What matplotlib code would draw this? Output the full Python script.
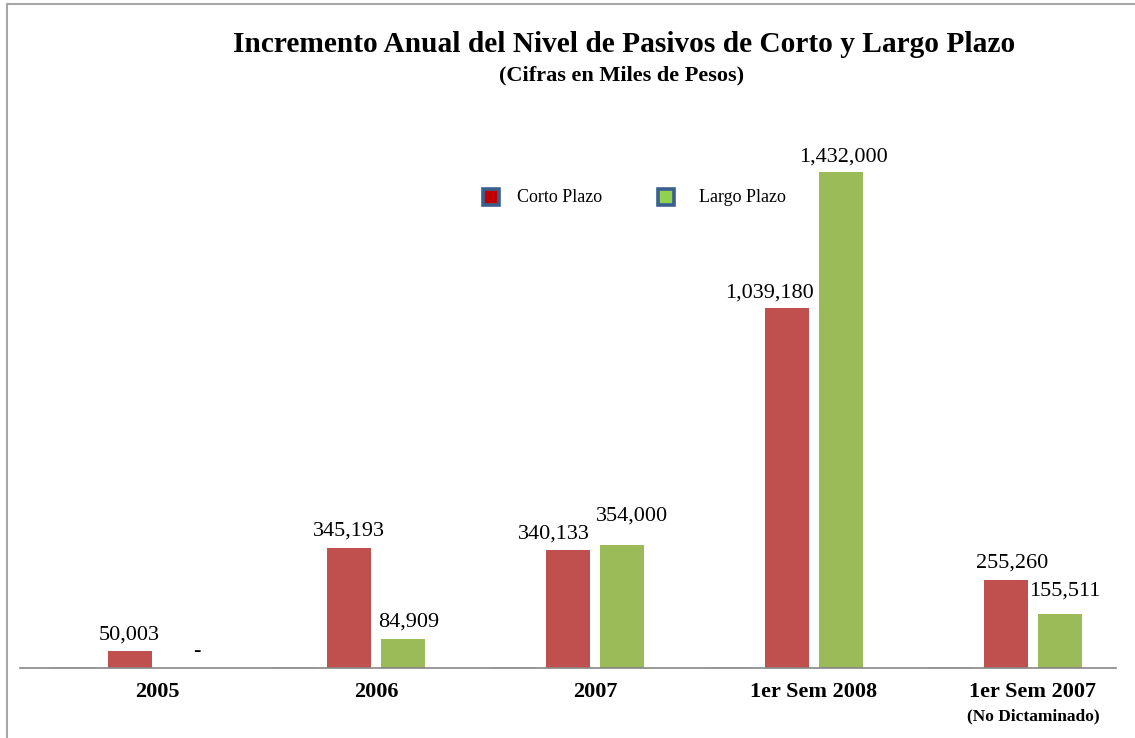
import matplotlib
matplotlib.use('Agg')
import matplotlib.pyplot as plt
from matplotlib.lines import Line2D
import numpy as np

plt.rcParams['font.family'] = ['Liberation Serif', 'DejaVu Serif']

# datos (miles de pesos)
periodos = ['2005', '2006', '2007', '1er Sem 2008', '1er Sem 2007']
corto_plazo = [50003, 345193, 340133, 1039180, 255260]
largo_plazo = [0, 84909, 354000, 1432000, 155511]
serie_vacia = [0, 0, 0, 0, 0]

# desplazamiento (px) de cada etiqueta de valor respecto al centro de su barra
desp_corto = [(0, 16), (0, 17), (-14, 16), (-17, 15), (7, 17)]
desp_largo = [(12, 16), (5, 17), (10, 29), (2, 15), (4, 23)]

rojo = '#C0504D'
verde = '#9BBB59'
azul_claro = '#C6D9F1'

fig = plt.figure(figsize=(11.35, 7.38), dpi=100)
ax = fig.add_axes([20 / 1135, 70 / 738, 1096 / 1135, 570 / 738])

x = np.arange(len(periodos))
ancho = 0.2
ax.bar(x - 0.375, serie_vacia, ancho, color=azul_claro, edgecolor=azul_claro, linewidth=1.2)
b1 = ax.bar(x - 0.125, corto_plazo, ancho, color=rojo)
b2 = ax.bar(x + 0.125, largo_plazo, ancho, color=verde)

# etiquetas de valor sobre cada barra
for barras, desp in ((b1, desp_corto), (b2, desp_largo)):
    for b, (dx, dy) in zip(barras, desp):
        v = b.get_height()
        txt = f'{v:,.0f}' if v > 0 else '-'
        ax.annotate(txt, (b.get_x() + b.get_width() / 2, v), xytext=(dx, dy),
                    textcoords='offset pixels', ha='center', va='center', fontsize=16)

ax.set_xlim(-0.6256, 4.379)
ax.set_ylim(0, 1432000 * 570 / 496)
for s in ['top', 'right', 'left']:
    ax.spines[s].set_visible(False)
ax.spines['bottom'].set_color('#868686')
ax.spines['bottom'].set_linewidth(1.2)
ax.set_yticks([])
ax.set_xticks(x)
ax.set_xticklabels(periodos, fontsize=16, fontweight='bold')
ax.tick_params(axis='x', length=0, pad=10)
ax.text(4, -0.085, '(No Dictaminado)', transform=ax.get_xaxis_transform(),
        ha='center', va='center', fontsize=12.5, fontweight='bold')

# leyenda
y_ley = 1 - 197 / 738
fig.add_artist(Line2D([491 / 1135], [y_ley], marker='s', markersize=11.5, markerfacecolor='#C00000',
                      markeredgecolor='#3A5F8F', markeredgewidth=2.6))
fig.text(517 / 1135, y_ley, 'Corto Plazo', ha='left', va='center', fontsize=13)
fig.add_artist(Line2D([666 / 1135], [y_ley], marker='s', markersize=11.5, markerfacecolor='#92D050',
                      markeredgecolor='#3A5F8F', markeredgewidth=2.6))
fig.text(699 / 1135, y_ley, 'Largo Plazo', ha='left', va='center', fontsize=13)

fig.text(624 / 1135, 1 - 45 / 738, 'Incremento Anual del Nivel de Pasivos de Corto y Largo Plazo',
         ha='center', va='center', fontsize=21.2, fontweight='bold')
fig.text(622 / 1135, 1 - 75 / 738, '(Cifras en Miles de Pesos)',
         ha='center', va='center', fontsize=16, fontweight='bold')

# marco gris del grafico
fig.add_artist(Line2D([7 / 1135, 1], [1 - 4 / 738, 1 - 4 / 738], color='#A6A6A6', linewidth=1.5))
fig.add_artist(Line2D([7 / 1135, 7 / 1135], [0, 1 - 4 / 738], color='#A6A6A6', linewidth=1.5))

fig.savefig('out.png', dpi=100)
